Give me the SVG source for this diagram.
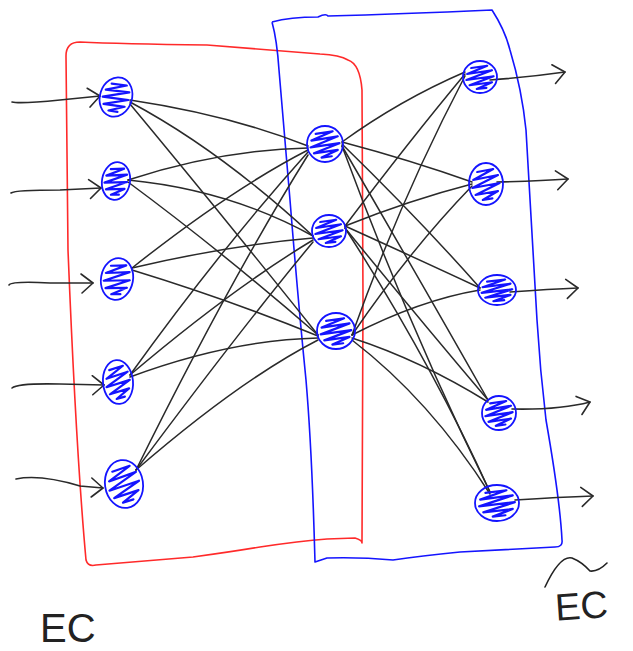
<svg xmlns="http://www.w3.org/2000/svg" xmlns:xlink="http://www.w3.org/1999/xlink" width="633" height="651" viewBox="0 0 633 651">
<style>
.conn{fill:none;stroke:#2a2a2a;stroke-width:1.5;stroke-linecap:round}
.arrow{fill:none;stroke:#2a2a2a;stroke-width:1.6;stroke-linecap:round;marker-end:url(#ah)}
.node{fill:none;stroke:#1414ff;stroke-width:1.8}
.scr{fill:none;stroke:#1414ff;stroke-width:2.2;stroke-linejoin:round;stroke-linecap:round}
.redbox{fill:none;stroke:#ff2a2a;stroke-width:1.6;stroke-linejoin:round}
.bluebox{fill:none;stroke:#1414ff;stroke-width:1.6;stroke-linejoin:round}
.lbl{font-family:"Liberation Sans",Arial,sans-serif;fill:#222}
</style>
<defs>
<marker id="ah" markerWidth="24" markerHeight="24" refX="0" refY="0" viewBox="-14 -12 16 24" orient="auto" markerUnits="userSpaceOnUse">
<path d="M-12,-9 L0,0 L-11,10" fill="none" stroke="#2a2a2a" stroke-width="1.6" stroke-linecap="round" stroke-linejoin="round"/>
</marker>
<path id="scrib" vector-effect="non-scaling-stroke" d="M-0.55,-0.6 L0.45,-0.75 L-0.8,-0.2 L0.75,-0.45 L-0.85,0.2 L0.85,-0.05 L-0.65,0.55 L0.75,0.35 L-0.2,0.8 L0.4,0.72"/>
</defs>

<g id="boxes">
<path class="redbox" d="M80,42 Q66,42 66,56 L68,250 Q76,450 86,560 Q88,567 96,565 L193,557 Q230,552 260,547 Q300,541 327,539 L355,538 Q362,540 362,543 L363,300 L362,90 Q360,64 348,60 Q340,55 320,54 L207,45 Q120,44 80,42 Z"/>
<path class="bluebox" d="M272,22 Q290,17 318,17 Q326,13 328,16 Q400,14 492,10 Q505,30 510,50 Q522,90 526,130 L537,320 Q540,370 546,420 Q560,500 562,540 Q563,547 555,547 L460,552 Q420,556 393,560 Q360,557 327,558 L315,562 Q312,450 306,380 Q298,300 290,200 Q283,120 279,70 Q277,40 272,22"/>
</g>

<g id="connectors">
<path class="conn" d="M130,100 Q230,115 308,146"/>
<path class="conn" d="M130,102 Q220,150 313,236"/>
<path class="conn" d="M130,104 Q210,200 318,335"/>
<path class="conn" d="M128,180 Q220,150 308,148"/>
<path class="conn" d="M128,180 Q230,190 313,236"/>
<path class="conn" d="M128,182 Q220,250 318,335"/>
<path class="conn" d="M132,268 Q230,190 308,150"/>
<path class="conn" d="M132,268 Q230,245 313,238"/>
<path class="conn" d="M132,270 Q230,300 318,336"/>
<path class="conn" d="M130,375 Q220,250 308,152"/>
<path class="conn" d="M130,375 Q230,290 313,240"/>
<path class="conn" d="M130,377 Q230,340 318,338"/>
<path class="conn" d="M136,470 Q230,280 308,155"/>
<path class="conn" d="M136,470 Q240,330 313,242"/>
<path class="conn" d="M136,470 Q240,380 318,340"/>

<path class="conn" d="M342,142 Q400,100 465,72"/>
<path class="conn" d="M342,142 Q410,160 472,182"/>
<path class="conn" d="M342,144 Q420,220 480,288"/>
<path class="conn" d="M342,146 Q420,280 488,400"/>
<path class="conn" d="M342,146 Q410,330 490,492"/>
<path class="conn" d="M345,226 Q410,140 465,74"/>
<path class="conn" d="M345,226 Q410,200 472,184"/>
<path class="conn" d="M345,226 Q420,260 480,288"/>
<path class="conn" d="M345,228 Q420,320 488,400"/>
<path class="conn" d="M345,228 Q430,360 490,492"/>
<path class="conn" d="M352,335 Q400,200 465,76"/>
<path class="conn" d="M352,335 Q410,250 472,186"/>
<path class="conn" d="M352,335 Q420,300 480,290"/>
<path class="conn" d="M352,338 Q420,360 488,402"/>
<path class="conn" d="M352,340 Q430,400 490,494"/>

<path class="arrow" d="M12,102 Q20,104 60,100 L100,96"/>
<path class="arrow" d="M11,193 Q15,190 60,190 L101,188"/>
<path class="arrow" d="M9,285 Q12,281 50,283 L93,283"/>
<path class="arrow" d="M12,388 Q18,383 60,384 L104,385"/>
<path class="arrow" d="M16,479 Q40,474 80,486 L103,488"/>

<path class="arrow" d="M490,80 Q530,77 565,72"/>
<path class="arrow" d="M497,182 Q540,181 568,179"/>
<path class="arrow" d="M510,292 Q550,289 578,288"/>
<path class="arrow" d="M512,409 Q560,410 590,402"/>
<path class="arrow" d="M515,500 Q560,497 593,496"/>
</g>

<g id="in1" transform="translate(116,97) rotate(18)"><ellipse class="node" rx="16" ry="20"/><use xlink:href="#scrib" class="scr" transform="scale(15,19)"/></g>
<g id="in2" transform="translate(116,181) rotate(10)"><ellipse class="node" rx="14" ry="19"/><use xlink:href="#scrib" class="scr" transform="scale(13,18)"/></g>
<g id="in3" transform="translate(117,279) rotate(10)"><ellipse class="node" rx="16" ry="21"/><use xlink:href="#scrib" class="scr" transform="scale(15,20)"/></g>
<g id="in4" transform="translate(118,382) rotate(-5)"><ellipse class="node" rx="15" ry="22"/><use xlink:href="#scrib" class="scr" transform="scale(14,21)"/></g>
<g id="in5" transform="translate(124,484) rotate(-8)"><ellipse class="node" rx="19" ry="24"/><use xlink:href="#scrib" class="scr" transform="scale(18,23)"/></g>

<g id="h1" transform="translate(325,144)"><ellipse class="node" rx="18" ry="18"/><use xlink:href="#scrib" class="scr" transform="scale(17,17)"/></g>
<g id="h2" transform="translate(329,231)"><ellipse class="node" rx="17" ry="16"/><use xlink:href="#scrib" class="scr" transform="scale(16,15)"/></g>
<g id="h3" transform="translate(336,331)"><ellipse class="node" rx="19" ry="18"/><use xlink:href="#scrib" class="scr" transform="scale(18,17)"/></g>

<g id="out1" transform="translate(480,77)"><ellipse class="node" rx="17" ry="16"/><use xlink:href="#scrib" class="scr" transform="scale(16,15)"/></g>
<g id="out2" transform="translate(486,184)"><ellipse class="node" rx="17" ry="21"/><use xlink:href="#scrib" class="scr" transform="scale(16,20)"/></g>
<g id="out3" transform="translate(497,290)"><ellipse class="node" rx="19" ry="15"/><use xlink:href="#scrib" class="scr" transform="scale(18,14)"/></g>
<g id="out4" transform="translate(499,413)"><ellipse class="node" rx="17" ry="17"/><use xlink:href="#scrib" class="scr" transform="scale(16,16)"/></g>
<g id="out5" transform="translate(497,503)"><ellipse class="node" rx="22" ry="18"/><use xlink:href="#scrib" class="scr" transform="scale(21,17)"/></g>

<g id="labels">
<text class="lbl" x="40" y="642" font-size="40">EC</text>
<text class="lbl" x="555" y="619" font-size="38" transform="rotate(-4 580 605)">EC</text>
<path d="M545,587 Q560,555 572,558 Q582,562 590,571 Q598,572 607,563" fill="none" stroke="#222" stroke-width="1.6" stroke-linecap="round"/>
</g>
</svg>
